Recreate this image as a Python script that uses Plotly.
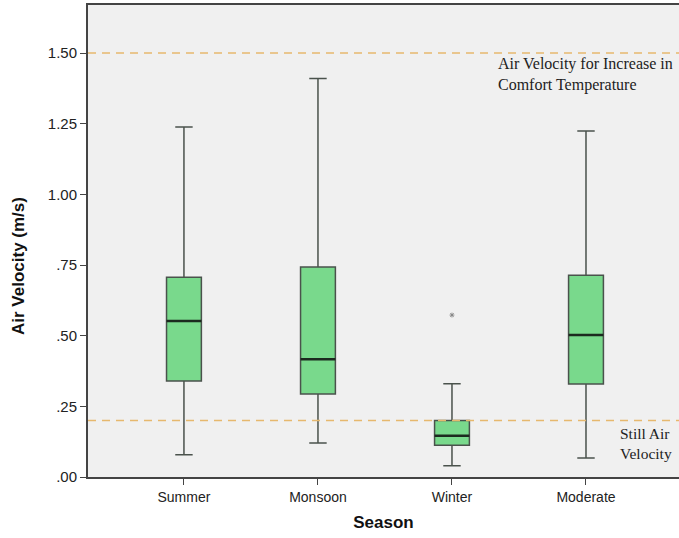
import plotly.graph_objects as go

# Season categories and box-plot statistics for air velocity (m/s)
seasons = ["Summer", "Monsoon", "Winter", "Moderate"]
lower_whisker = [0.079, 0.120, 0.040, 0.067]
q1_values = [0.340, 0.294, 0.112, 0.329]
medians = [0.552, 0.417, 0.146, 0.502]
q3_values = [0.707, 0.743, 0.200, 0.714]
upper_whisker = [1.238, 1.410, 0.330, 1.224]

# Outlying observations
outlier_season = ["Winter"]
outlier_value = [0.573]

# Reference thresholds
comfort_limit = 1.50
still_air_limit = 0.20

tick_vals = [0, 0.25, 0.5, 0.75, 1.0, 1.25, 1.5]
tick_text = [".00", ".25", ".50", ".75", "1.00", "1.25", "1.50"]

positions = list(range(len(seasons)))
box_width = 0.26

fig = go.Figure()

fig.add_trace(go.Box(
    x=positions,
    q1=q1_values,
    median=medians,
    q3=q3_values,
    lowerfence=lower_whisker,
    upperfence=upper_whisker,
    width=box_width,
    whiskerwidth=0.5,
    fillcolor="#79D98C",
    line=dict(color="#4a524c", width=1.5),
    boxpoints=False,
    hoverinfo="skip",
    showlegend=False,
))

# Darker median bars on top of each box
for p, m in zip(positions, medians):
    fig.add_shape(type="line", xref="x", yref="y",
                  x0=p - box_width / 2, x1=p + box_width / 2, y0=m, y1=m,
                  line=dict(color="#1c2a1f", width=2.5))

fig.add_trace(go.Scatter(
    x=[seasons.index(s) for s in outlier_season],
    y=outlier_value,
    mode="markers",
    marker=dict(symbol="asterisk-open", size=4, color="#888888",
                line=dict(color="#888888", width=1)),
    showlegend=False,
    hoverinfo="skip",
))

# Threshold lines
for level in (comfort_limit, still_air_limit):
    fig.add_shape(type="line", xref="paper", yref="y",
                  x0=0, x1=1, y0=level, y1=level,
                  line=dict(color="#E6B86E", width=1.5, dash="8px,6px"))

serif = "Liberation Serif, Times New Roman, serif"
fig.add_annotation(x=2.33, y=1.50, xref="x", yref="y",
                   text="Air Velocity for Increase in<br>Comfort Temperature",
                   showarrow=False, xanchor="left", yanchor="top", align="left",
                   font=dict(family=serif, size=16, color="#222222"))
fig.add_annotation(x=3.24, y=0.19, xref="x", yref="y",
                   text="Still Air<br>Velocity",
                   showarrow=False, xanchor="left", yanchor="top", align="left",
                   font=dict(family=serif, size=15.5, color="#222222"))

sans = "Liberation Sans, Arial, sans-serif"

# Rotated y-axis title, positioned in paper coordinates
fig.add_annotation(xref="paper", yref="paper",
                   x=(18 - 88) / (679 - 88), y=(538 - 61 - 266) / (538 - 61 - 5),
                   xanchor="center", yanchor="middle",
                   text="<b>Air Velocity (m/s)</b>", textangle=-90,
                   showarrow=False, font=dict(family=sans, size=17, color="#111111"))

fig.update_layout(
    width=679, height=538,
    margin=dict(l=88, r=0, t=5, b=61),
    paper_bgcolor="white",
    plot_bgcolor="#F0F0F0",
    font=dict(family=sans, size=13, color="#222222"),
    xaxis=dict(
        range=[-0.716, 3.694],
        tickvals=positions, ticktext=seasons,
        ticks="outside", ticklen=6, tickcolor="#444444",
        showline=True, linecolor="#444444", linewidth=2, mirror=True,
        showgrid=False, zeroline=False,
        tickfont=dict(size=14, color="#222222"),
        title=dict(text="<b>Season</b>", font=dict(size=17, color="#111111"), standoff=12),
    ),
    yaxis=dict(
        range=[0, 1.67],
        tickvals=tick_vals, ticktext=tick_text,
        ticks="outside", ticklen=6, tickcolor="#444444",
        showline=True, linecolor="#444444", linewidth=2,
        showgrid=False, zeroline=False,
        tickfont=dict(size=15, color="#222222"),
    ),
)

fig.write_html("out.html")
